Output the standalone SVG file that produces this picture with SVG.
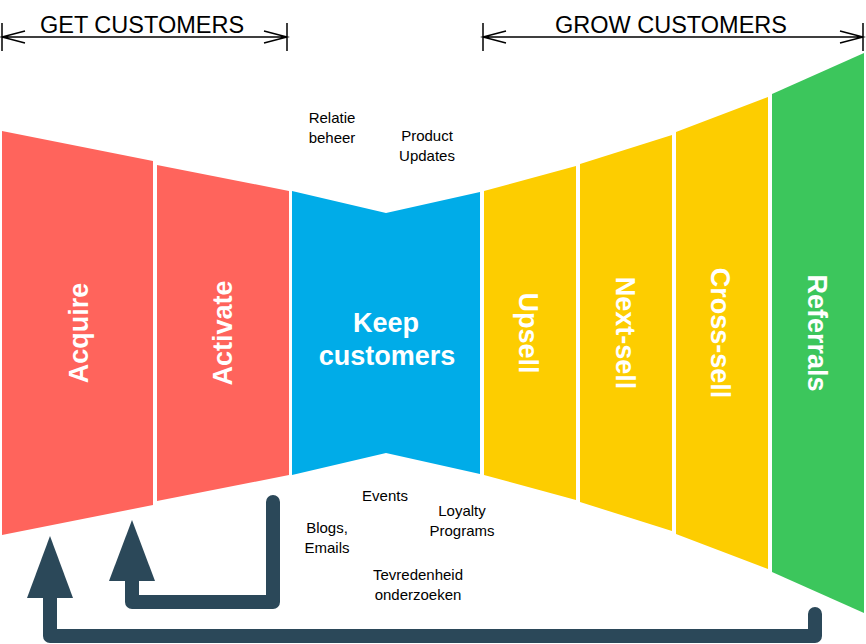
<svg xmlns="http://www.w3.org/2000/svg" width="866" height="644" viewBox="0 0 866 644">
<style>
.red{fill:#FF645C}.blue{fill:#00ACE8}.yel{fill:#FDCD00}.grn{fill:#3CC65C}
.lbl{font-family:"Liberation Sans",Arial,sans-serif;font-weight:bold;font-size:27px;fill:#fff;text-anchor:middle}
.sm{font-family:"Liberation Sans",Arial,sans-serif;font-size:15px;fill:#000;text-anchor:middle}
.hd{font-family:"Liberation Sans",Arial,sans-serif;font-size:23.5px;fill:#000;text-anchor:middle}
.dim{stroke:#000;stroke-width:1.5;fill:none}
.loop{stroke:#2B4859;stroke-width:14;fill:none;stroke-linecap:round;stroke-linejoin:round}
.head{fill:#2B4859}
</style>
<g id="get-customers">
<path class="dim" d="M2,37H287M2,23V51M287,23V51M25,31L2,37L25,43M264,31L287,37L264,43"/>
<text class="hd" x="142" y="33">GET CUSTOMERS</text>
</g>
<g id="grow-customers">
<path class="dim" d="M483,37H863M483,23V51M863,23V51M506,31L483,37L506,43M840,31L863,37L840,43"/>
<text class="hd" x="671" y="33">GROW CUSTOMERS</text>
</g>
<g id="acquire">
<polygon class="red" points="2,131 153,161 153,505 2,535"/>
<text class="lbl" transform="translate(88,333) rotate(-90)">Acquire</text>
</g>
<g id="activate">
<polygon class="red" points="157,165 289,191 289,475 157,501"/>
<text class="lbl" transform="translate(232,333) rotate(-90)">Activate</text>
</g>
<g id="keep">
<polygon class="blue" points="292,191 386,213 480,192 480,474 386,453 292,475"/>
<text class="lbl" x="386" y="332">Keep</text>
<text class="lbl" x="387" y="365">customers</text>
</g>
<g id="upsell">
<polygon class="yel" points="484,191 576,166 576,500 484,475"/>
<text class="lbl" transform="translate(519,333) rotate(90)">Upsell</text>
</g>
<g id="next-sell">
<polygon class="yel" points="580,164 672,135 672,531 580,502"/>
<text class="lbl" transform="translate(616,333) rotate(90)">Next-sell</text>
</g>
<g id="cross-sell">
<polygon class="yel" points="676,132 768,97 768,569 676,534"/>
<text class="lbl" transform="translate(711,333) rotate(90)">Cross-sell</text>
</g>
<g id="referrals">
<polygon class="grn" points="772,94 864,53 864,613 772,572"/>
<text class="lbl" transform="translate(808,333) rotate(90)">Referrals</text>
</g>
<g id="labels">
<text class="sm" x="332" y="123">Relatie</text>
<text class="sm" x="332" y="143">beheer</text>
<text class="sm" x="427" y="141">Product</text>
<text class="sm" x="427" y="161">Updates</text>
<text class="sm" x="385" y="501">Events</text>
<text class="sm" x="462" y="516">Loyalty</text>
<text class="sm" x="462" y="536">Programs</text>
<text class="sm" x="327" y="533">Blogs,</text>
<text class="sm" x="327" y="553">Emails</text>
<text class="sm" x="418" y="580">Tevredenheid</text>
<text class="sm" x="418" y="600">onderzoeken</text>
</g>
<g id="connectors">
<path class="loop" d="M273,502V602H132V578"/>
<polygon class="head" points="132,520 155,581 109,581"/>
<path class="loop" d="M815,614V636H50V594"/>
<polygon class="head" points="50,536 73,598 27,598"/>
</g>
</svg>
